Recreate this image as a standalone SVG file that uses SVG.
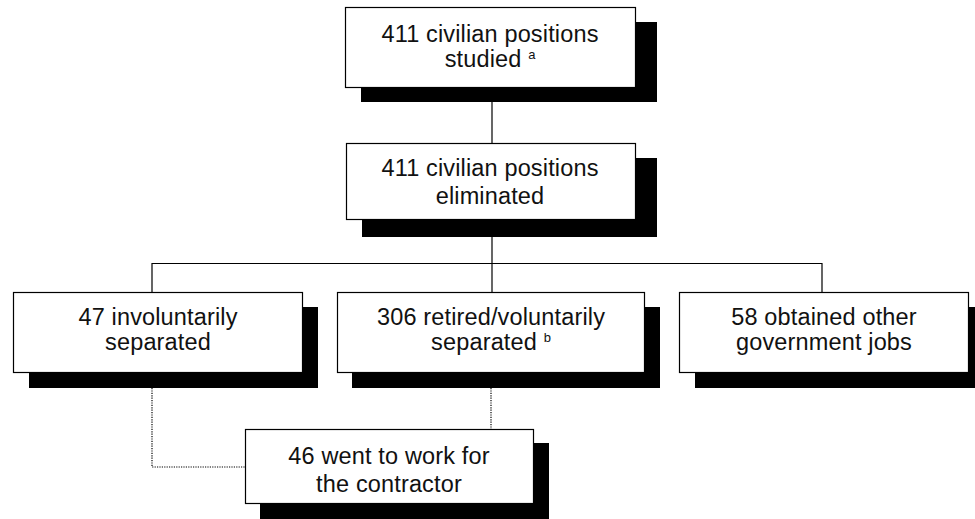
<svg xmlns="http://www.w3.org/2000/svg" width="975" height="519" viewBox="0 0 975 519">
<style>
.shadow{fill:#000}
.box{fill:#fff;stroke:#000;stroke-width:1.2}
.lbl{font-family:"Liberation Sans",Arial,sans-serif;font-size:23.5px;letter-spacing:0.15px;fill:#111;text-anchor:middle}
.sup{font-size:13px;letter-spacing:0}
.solid{stroke:#000;stroke-width:1.2;fill:none}
.dot{stroke:#000;stroke-width:1.2;fill:none;stroke-dasharray:1.2 1.2}
</style>
<rect width="975" height="519" fill="#fff"/>
<g id="connectors">
<line class="solid" x1="492" y1="87" x2="492" y2="143"/>
<line class="solid" x1="492" y1="219" x2="492" y2="292"/>
<polyline class="solid" points="152,292 152,263.5 822,263.5 822,292"/>
<polyline class="dot" points="152,388 152,467 245,467"/>
<line class="dot" x1="491" y1="388" x2="491" y2="429"/>
</g>
<g id="n1">
<rect class="shadow" x="361" y="22" width="296" height="80"/>
<rect class="box" x="345.5" y="7.5" width="290" height="80"/>
<text class="lbl" x="490" y="42">411 civilian positions</text>
<text class="lbl" x="490" y="67">studied <tspan class="sup" dy="-8">a</tspan></text>
</g>
<g id="n2">
<rect class="shadow" x="362" y="158" width="295" height="79"/>
<rect class="box" x="346.5" y="143.5" width="289" height="76"/>
<text class="lbl" x="490" y="176">411 civilian positions</text>
<text class="lbl" x="490" y="204">eliminated</text>
</g>
<g id="n3">
<rect class="shadow" x="29" y="307" width="289" height="81"/>
<rect class="box" x="13.5" y="292.5" width="289" height="80"/>
<text class="lbl" x="158" y="325">47 involuntarily</text>
<text class="lbl" x="158" y="350">separated</text>
</g>
<g id="n4">
<rect class="shadow" x="352" y="307" width="308" height="81"/>
<rect class="box" x="337.5" y="292.5" width="307" height="80"/>
<text class="lbl" x="491" y="325">306 retired/voluntarily</text>
<text class="lbl" x="491" y="350">separated <tspan class="sup" dy="-8">b</tspan></text>
</g>
<g id="n5">
<rect class="shadow" x="695" y="307" width="290" height="81"/>
<rect class="box" x="679.5" y="292.5" width="289" height="80"/>
<text class="lbl" x="824" y="325">58 obtained other</text>
<text class="lbl" x="824" y="350">government jobs</text>
</g>
<g id="n6">
<rect class="shadow" x="260" y="443" width="289" height="80"/>
<rect class="box" x="245.5" y="429.5" width="288" height="74"/>
<text class="lbl" x="389" y="464">46 went to work for</text>
<text class="lbl" x="389" y="492">the contractor</text>
</g>
</svg>
